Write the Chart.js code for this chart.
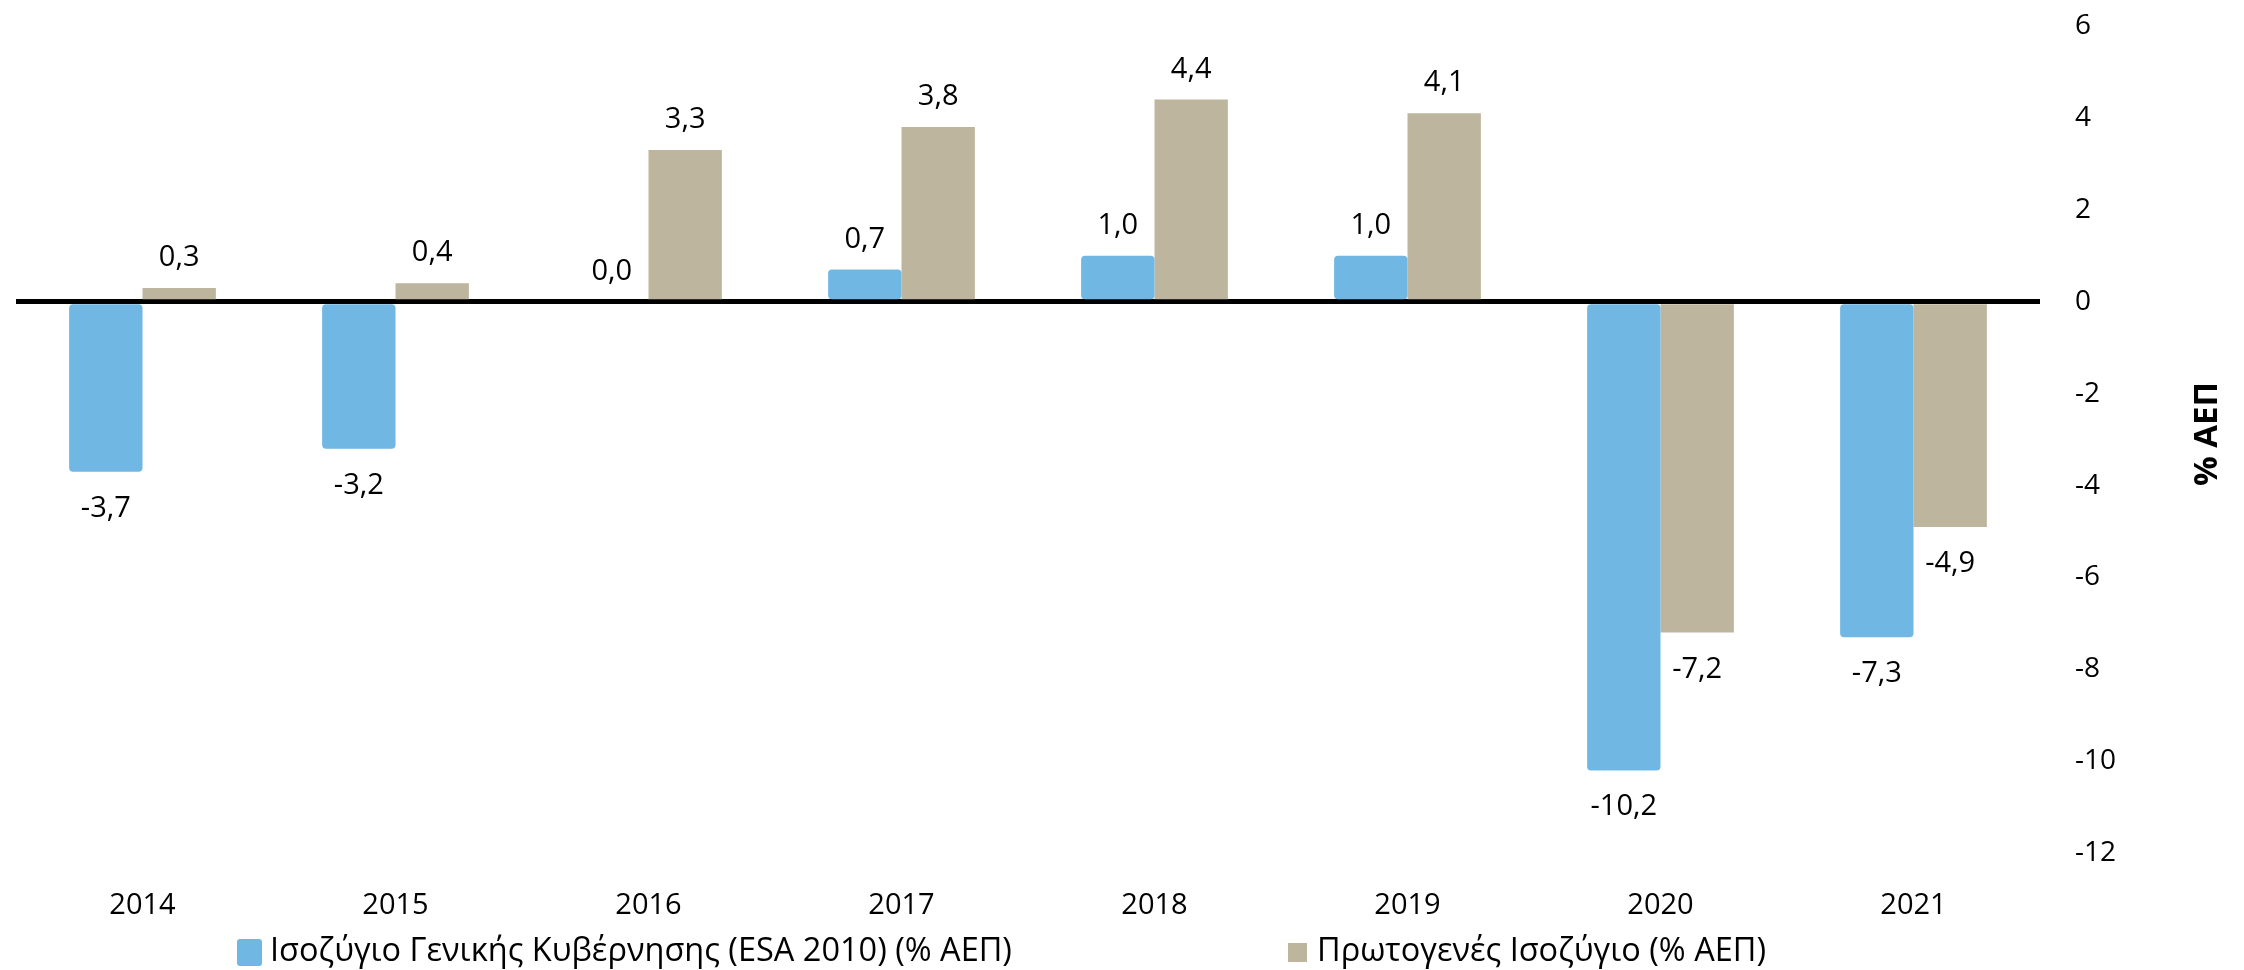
<!DOCTYPE html>
<html>
<head>
<meta charset="utf-8">
<script src="https://cdn.jsdelivr.net/npm/chart.js@4/dist/chart.umd.min.js"></script>
<style>
  html, body { margin: 0; padding: 0; background: #fff; }
  #wrap { position: relative; width: 2244px; height: 970px; }
  #balanceChart { position: absolute; left: 0; top: 0; }
  .legend-item { position: absolute; top: 927px; height: 44px; white-space: nowrap;
    font-family: 'Open Sans', 'Noto Sans', sans-serif; font-size: 32.5px; line-height: 44px; color: #000; }
  .legend-box { position: absolute; left: 0; }
  .legend-text { position: absolute; top: 0; }
</style>
</head>
<body>
<div id="wrap">
  <canvas id="balanceChart" width="2244" height="970"></canvas>
  <div id="legend"></div>
</div>
<script>
const years = ['2014', '2015', '2016', '2017', '2018', '2019', '2020', '2021'];
const generalBalance = [-3.7, -3.2, 0.0, 0.7, 1.0, 1.0, -10.2, -7.3];
const primaryBalance = [0.3, 0.4, 3.3, 3.8, 4.4, 4.1, -7.2, -4.9];
const seriesNames = ['Ισοζύγιο Γενικής Κυβέρνησης (ESA 2010) (% ΑΕΠ)', 'Πρωτογενές Ισοζύγιο (% ΑΕΠ)'];
const seriesColors = ['#71B7E3', '#BDB59D'];
const yMin = -12;
const yMax = 6;
const yStep = 2;
const yTitle = '% ΑΕΠ';

const fontFamily = "'Open Sans', 'Noto Sans', sans-serif";
Chart.defaults.font.family = fontFamily;
Chart.defaults.color = '#000';

const ctx = document.querySelector('#balanceChart').getContext('2d');

// value labels at the end of every bar, comma as decimal mark
const barLabels = {
    id: 'barLabels',
    afterDatasetsDraw(chart) {
        const c = chart.ctx;
        c.save();
        c.font = `29px ${fontFamily}`;
        c.fillStyle = '#000';
        c.textAlign = 'center';
        c.textBaseline = 'alphabetic';
        chart.data.datasets.forEach((ds, i) => {
            chart.getDatasetMeta(i).data.forEach((bar, j) => {
                const v = ds.data[j];
                const txt = v.toFixed(1).replace('.', ',');
                const y = v >= 0 ? bar.y - 22 : bar.y + 45;
                c.fillText(txt, bar.x, y);
            });
        });
        c.restore();
    }
};

// axis title on the right, reading bottom to top
const rightTitle = {
    id: 'rightTitle',
    afterDraw(chart) {
        const c = chart.ctx;
        c.save();
        c.translate(2208, 434);
        c.rotate(-Math.PI / 2);
        c.font = `bold 33px ${fontFamily}`;
        c.fillStyle = '#000';
        c.textAlign = 'center';
        c.textBaseline = 'middle';
        c.fillText(yTitle, 0, 0);
        c.restore();
    }
};

let balanceChart = new Chart(ctx, {
    type: 'bar',
    data: {
        labels: years,
        datasets: [
            {
                label: seriesNames[0],
                data: generalBalance,
                backgroundColor: seriesColors[0],
                borderRadius: 4,
                borderSkipped: false
            },
            {
                label: seriesNames[1],
                data: primaryBalance,
                backgroundColor: seriesColors[1]
            }
        ]
    },
    options: {
        responsive: false,
        animation: false,
        categoryPercentage: 0.58,
        barPercentage: 1,
        layout: {
            padding: { left: 16, right: 114, top: 26, bottom: 20 }
        },
        plugins: {
            legend: { display: false },
            tooltip: { enabled: false }
        },
        scales: {
            x: {
                offset: true,
                grid: { display: false },
                border: { display: false },
                ticks: { padding: 27, font: { size: 29 } }
            },
            y: {
                position: 'right',
                min: yMin,
                max: yMax,
                z: 1,
                afterFit: (scale) => {
                    scale.width = 90;
                    scale.paddingTop = 17;
                    scale.paddingBottom = 17;
                },
                border: { display: false },
                grid: {
                    drawTicks: false,
                    lineWidth: 5,
                    color: (c) => c.tick && c.tick.value === 0 ? '#000' : 'rgba(0,0,0,0)'
                },
                ticks: { stepSize: yStep, padding: 35, font: { size: 28 } }
            }
        }
    },
    plugins: [barLabels, rightTitle]
});

// legend laid out like the original, items spread apart
const legendEl = document.querySelector('#legend');
const legendLeft = [237, 1288];
const legendBox = [[25, 27, 12, 3], [19, 19, 16, 0]];
const legendTextLeft = [33, 29];
seriesNames.forEach((name, i) => {
    const item = document.createElement('div');
    item.classList.add('legend-item');
    item.style.left = legendLeft[i] + 'px';
    const box = document.createElement('span');
    box.classList.add('legend-box');
    box.style.background = seriesColors[i];
    box.style.width = legendBox[i][0] + 'px';
    box.style.height = legendBox[i][1] + 'px';
    box.style.top = legendBox[i][2] + 'px';
    box.style.borderRadius = legendBox[i][3] + 'px';
    const text = document.createElement('span');
    text.classList.add('legend-text');
    text.style.left = legendTextLeft[i] + 'px';
    text.textContent = name;
    item.appendChild(box);
    item.appendChild(text);
    legendEl.appendChild(item);
});
</script>
</body>
</html>
